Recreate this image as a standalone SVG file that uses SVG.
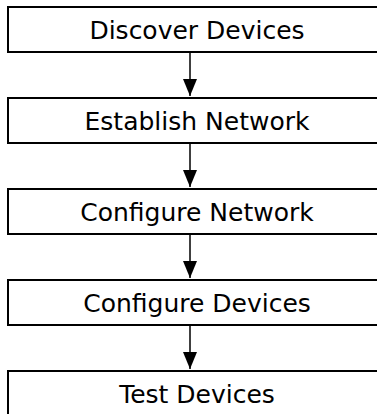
<svg xmlns="http://www.w3.org/2000/svg" width="377" height="414" viewBox="0 0 377 414">
<defs>
<style>
.box{fill:#fff;stroke:#000;stroke-width:2}
.lbl{font-family:"DejaVu Sans","Noto Sans",sans-serif;font-size:25px;fill:#000;text-anchor:middle}
.conn{stroke:#000;stroke-width:1.5;fill:none;marker-end:url(#ah)}
</style>
<marker id="ah" viewBox="0 0 17 14" refX="17" refY="7" markerWidth="17" markerHeight="14" markerUnits="userSpaceOnUse" orient="auto"><path d="M0,0 L17,7 L0,14 Z" fill="#000"/></marker>
</defs>
<rect width="377" height="414" fill="#fff"/>
<g id="connectors">
<line class="conn" x1="190" y1="53" x2="190" y2="96"/>
<line class="conn" x1="190" y1="144" x2="190" y2="187"/>
<line class="conn" x1="190" y1="235" x2="190" y2="278"/>
<line class="conn" x1="190" y1="326" x2="190" y2="369"/>
</g>
<g id="n1"><rect class="box" x="8" y="7" width="380" height="45"/><text class="lbl" x="197" y="39">Discover Devices</text></g>
<g id="n2"><rect class="box" x="8" y="98" width="380" height="45"/><text class="lbl" x="197" y="130">Establish Network</text></g>
<g id="n3"><rect class="box" x="8" y="189" width="380" height="45"/><text class="lbl" x="197" y="221">Configure Network</text></g>
<g id="n4"><rect class="box" x="8" y="280" width="380" height="45"/><text class="lbl" x="197" y="312">Configure Devices</text></g>
<g id="n5"><rect class="box" x="8" y="371" width="380" height="45"/><text class="lbl" x="197" y="403">Test Devices</text></g>
</svg>
